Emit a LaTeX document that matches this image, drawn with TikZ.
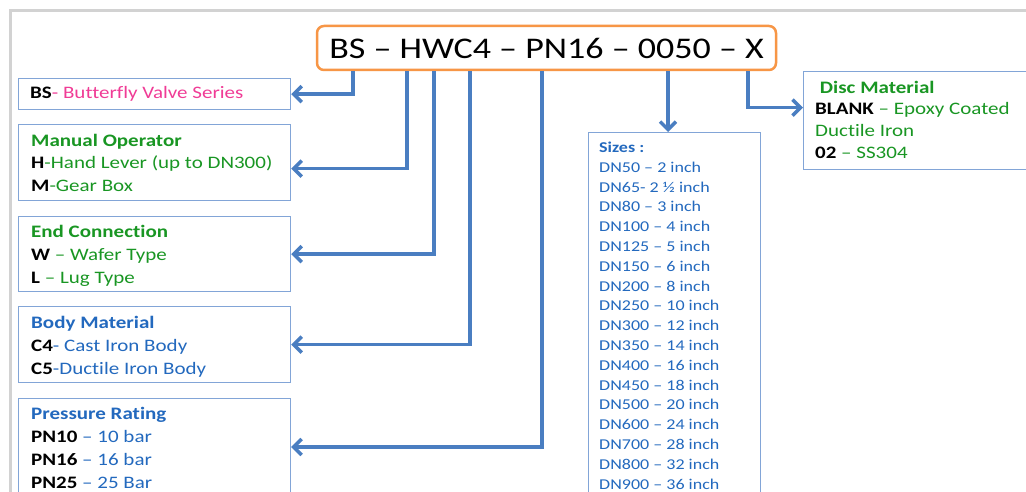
\documentclass[tikz,border=0pt]{standalone}
\usepackage{fontspec}
\setmainfont{Carlito}[FakeStretch=1.2, Ligatures=NoCommon]
\usetikzlibrary{arrows.meta}

\definecolor{boxblue}{RGB}{130,165,215}
\definecolor{linkblue}{RGB}{74,126,193}
\definecolor{textblue}{RGB}{35,105,190}
\definecolor{textgreen}{RGB}{25,150,35}
\definecolor{textpink}{RGB}{240,60,150}
\definecolor{titleorange}{RGB}{247,150,70}
\definecolor{framegray}{RGB}{210,210,210}

\newcommand{\partcode}[1]{\textcolor{black}{\textbf{#1}}}

\begin{document}
\begin{tikzpicture}[x=1pt, y=-1pt,
		box_style/.style={draw=boxblue, line width=1.2pt, anchor=north west, inner sep=0pt},
		text_style/.style={anchor=base west, align=left, inner sep=0pt, font=\fontsize{17.5}{23}\selectfont},
		size_style/.style={text_style, text=textblue, font=\fontsize{15}{19.8}\selectfont},
		link_style/.style={draw=linkblue, line width=3.5pt, -{Straight Barb[length=8pt,width=16pt]}},
		title_style/.style={draw=titleorange, line width=2.5pt, rounded corners=7pt, fill=white,
			minimum width=459pt, minimum height=44pt, inner sep=0pt, font=\fontsize{30}{36}\selectfont}]

		\clip (0,0) rectangle (1026,492);
		\fill[white] (0,0) rectangle (1026,492);
		\draw[line width=3pt, framegray] (1030,11) -| (10,496);

		% code and boxes
		\node[title_style] (title) at (546.5,48) {BS – HWC4 – PN16 – 0050 – X};
		\node[box_style, minimum width=272pt, minimum height=31pt] (bs) at (18,78) {};
		\node[box_style, minimum width=272pt, minimum height=76pt] (op) at (18,124) {};
		\node[box_style, minimum width=272pt, minimum height=75pt] (ends) at (18,216) {};
		\node[box_style, minimum width=272pt, minimum height=76pt] (body) at (18,306) {};
		\node[box_style, minimum width=272pt, minimum height=110pt] (press) at (18,398) {};
		\node[box_style, minimum width=172pt, minimum height=400pt] (sizes) at (588,132) {};
		\node[box_style, minimum width=240pt, minimum height=98pt] (disc) at (803,71) {};

		% texts (placed at the baseline of their last line)
		\node[text_style] (bs_text) at (30,99) {\partcode{BS}\textcolor{textpink}{- Butterfly Valve Series}};
		\node[text_style, text=textgreen] (op_text) at (31,192) {\textbf{Manual Operator}\\
			\partcode{H}-Hand Lever (up to DN300)\\ \partcode{M}-Gear Box};
		\node[text_style, text=textgreen] (ends_text) at (31,283) {\textbf{End Connection}\\
			\partcode{W} – Wafer Type\\ \partcode{L} – Lug Type};
		\node[text_style, text=textblue] (body_text) at (31,374) {\textbf{Body Material}\\
			\partcode{C4}- Cast Iron Body\\ \partcode{C5}-Ductile Iron Body};
		\node[text_style, text=textblue] (press_text) at (31,488) {\textbf{Pressure Rating}\\
			\partcode{PN10} – 10 bar\\ \partcode{PN16} – 16 bar\\ \partcode{PN25} – 25 Bar};
		\node[size_style] (sizes_text) at (599,489) {\textbf{Sizes :}\\
			DN50 – 2 inch\\ DN65- 2 ½ inch\\ DN80 – 3 inch\\ DN100 – 4 inch\\ DN125 – 5 inch\\
			DN150 – 6 inch\\ DN200 – 8 inch\\ DN250 – 10 inch\\ DN300 – 12 inch\\ DN350 – 14 inch\\
			DN400 – 16 inch\\ DN450 – 18 inch\\ DN500 – 20 inch\\ DN600 – 24 inch\\ DN700 – 28 inch\\
			DN800 – 32 inch\\ DN900 – 36 inch};
		\node[text_style, text=textgreen, font=\fontsize{17.5}{22}\selectfont] (disc_text) at (815,159) {\ \textbf{Disc Material}\\
			\partcode{BLANK} – Epoxy Coated\\ Ductile Iron\\ \partcode{02} – SS304};

		% links
		\draw[link_style] (353,0 |- title.south) |- (bs.east);
		\draw[link_style] (407,0 |- title.south) |- ([yshift=-6pt]op.east);
		\draw[link_style] (434,0 |- title.south) |- (ends.east);
		\draw[link_style] (470,0 |- title.south) |- (body.east);
		\draw[link_style] (542,0 |- title.south) |- ([yshift=-49pt]press.north east);
		\draw[link_style] (668,0 |- title.south) -- (668,0 |- sizes.north);
		\draw[link_style] (748,0 |- title.south) |- ([yshift=13pt]disc.west);

		\end{tikzpicture}
\end{document}
